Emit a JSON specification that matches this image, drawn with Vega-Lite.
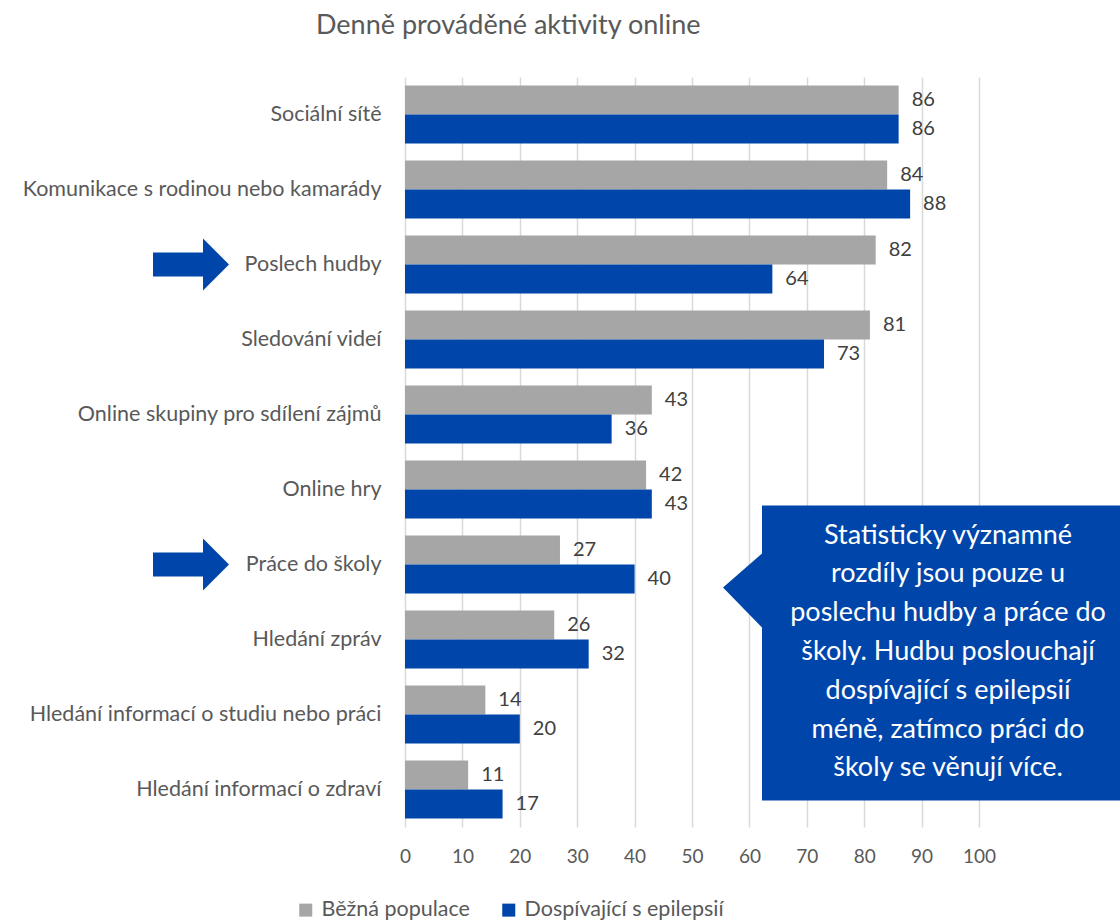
{
  "$schema": "https://vega.github.io/schema/vega-lite/v6.json",
  "autosize": {"type": "none"},
  "padding": {"left": 405, "top": 77, "right": 141, "bottom": 97},
  "width": 574,
  "height": 750,
  "background": "white",
  "title": {
    "text": "Denně prováděné aktivity online",
    "anchor": "start",
    "frame": "group",
    "dx": -89,
    "offset": 37,
    "font": "Lato",
    "fontSize": 27,
    "fontWeight": "normal",
    "color": "#595959"
  },
  "config": {
    "view": {"stroke": null},
    "axis": {"labelFont": "Lato", "labelColor": "#595959"},
    "legend": {"labelFont": "Lato"}
  },
  "datasets": {
    "activities": [
      {"activity": "Sociální sítě", "group": "Běžná populace", "value": 86},
      {"activity": "Sociální sítě", "group": "Dospívající s epilepsií", "value": 86},
      {"activity": "Komunikace s rodinou nebo kamarády", "group": "Běžná populace", "value": 84},
      {"activity": "Komunikace s rodinou nebo kamarády", "group": "Dospívající s epilepsií", "value": 88},
      {"activity": "Poslech hudby", "group": "Běžná populace", "value": 82},
      {"activity": "Poslech hudby", "group": "Dospívající s epilepsií", "value": 64},
      {"activity": "Sledování videí", "group": "Běžná populace", "value": 81},
      {"activity": "Sledování videí", "group": "Dospívající s epilepsií", "value": 73},
      {"activity": "Online skupiny pro sdílení zájmů", "group": "Běžná populace", "value": 43},
      {"activity": "Online skupiny pro sdílení zájmů", "group": "Dospívající s epilepsií", "value": 36},
      {"activity": "Online hry", "group": "Běžná populace", "value": 42},
      {"activity": "Online hry", "group": "Dospívající s epilepsií", "value": 43},
      {"activity": "Práce do školy", "group": "Běžná populace", "value": 27},
      {"activity": "Práce do školy", "group": "Dospívající s epilepsií", "value": 40},
      {"activity": "Hledání zpráv", "group": "Běžná populace", "value": 26},
      {"activity": "Hledání zpráv", "group": "Dospívající s epilepsií", "value": 32},
      {"activity": "Hledání informací o studiu nebo práci", "group": "Běžná populace", "value": 14},
      {"activity": "Hledání informací o studiu nebo práci", "group": "Dospívající s epilepsií", "value": 20},
      {"activity": "Hledání informací o zdraví", "group": "Běžná populace", "value": 11},
      {"activity": "Hledání informací o zdraví", "group": "Dospívající s epilepsií", "value": 17}
    ],
    "highlight": [
      {"activity": "Poslech hudby"},
      {"activity": "Práce do školy"}
    ],
    "note": [
      {"note": "Statisticky významné\nrozdíly jsou pouze u\nposlechu hudby a práce do\nškoly. Hudbu poslouchají\ndospívající s epilepsií\nméně, zatímco práci do\nškoly se věnují více."}
    ]
  },
  "layer": [
    {
      "data": {"name": "activities"},
      "mark": {"type": "bar"},
      "encoding": {
        "y": {
          "field": "activity",
          "type": "nominal",
          "scale": {
            "domain": ["Sociální sítě", "Komunikace s rodinou nebo kamarády", "Poslech hudby", "Sledování videí", "Online skupiny pro sdílení zájmů", "Online hry", "Práce do školy", "Hledání zpráv", "Hledání informací o studiu nebo práci", "Hledání informací o zdraví"],
            "paddingInner": 0.227,
            "paddingOuter": 0.1135
          },
          "axis": {
            "title": null,
            "domain": false,
            "ticks": false,
            "labelFont": "Lato",
            "labelFontSize": 21.5,
            "labelColor": "#595959",
            "labelPadding": 24,
            "labelLimit": 500
          }
        },
        "yOffset": {
          "field": "group",
          "type": "nominal",
          "scale": {"domain": ["Běžná populace", "Dospívající s epilepsií"], "paddingInner": 0, "paddingOuter": 0}
        },
        "x": {
          "field": "value",
          "type": "quantitative",
          "scale": {"domain": [0, 100], "nice": false},
          "axis": {
            "title": null,
            "values": [0, 10, 20, 30, 40, 50, 60, 70, 80, 90, 100],
            "grid": true,
            "gridColor": "#D9D9D9",
            "gridWidth": 1.5,
            "domain": false,
            "ticks": false,
            "labelFlush": false,
            "labelOverlap": false,
            "labelFontSize": 19,
            "labelPadding": 20,
            "labelColor": "#595959"
          }
        },
        "color": {
          "field": "group",
          "type": "nominal",
          "scale": {"domain": ["Běžná populace", "Dospívající s epilepsií"], "range": ["#A6A6A6", "#0046AA"]},
          "legend": {
            "title": null,
            "orient": "none",
            "legendX": -110,
            "legendY": 822,
            "direction": "horizontal",
            "symbolType": "square",
            "symbolSize": 169,
            "symbolStrokeWidth": 0,
            "labelFontSize": 21.5,
            "labelColor": "#595959",
            "labelOffset": 5,
            "labelLimit": 400,
            "columnPadding": 28
          }
        }
      }
    },
    {
      "data": {"name": "activities"},
      "mark": {"type": "text", "align": "left", "baseline": "middle", "dx": 13, "font": "Lato", "fontSize": 20, "color": "#404040"},
      "encoding": {
        "y": {"field": "activity", "type": "nominal"},
        "yOffset": {"field": "group", "type": "nominal"},
        "x": {"field": "value", "type": "quantitative"},
        "text": {"field": "value", "type": "quantitative"}
      }
    },
    {
      "data": {"name": "highlight"},
      "mark": {
        "type": "point",
        "filled": true,
        "opacity": 1,
        "size": 4,
        "color": "#0046AA",
        "shape": "M -252 -12 L -202 -12 L -202 -26 L -176 0 L -202 26 L -202 12 L -252 12 Z"
      },
      "encoding": {
        "y": {"field": "activity", "type": "nominal"},
        "x": {"datum": 0, "type": "quantitative"}
      }
    },
    {
      "data": {"name": "note"},
      "mark": {
        "type": "point",
        "filled": true,
        "opacity": 1,
        "size": 4,
        "color": "#0046AA",
        "shape": "M -217 -134 L 141 -134 L 141 161 L -217 161 L -217 -12 L -256 -52 L -217 -86 Z"
      },
      "encoding": {
        "y": {"datum": "Hledání zpráv", "type": "nominal"},
        "x": {"datum": 100, "type": "quantitative"}
      }
    },
    {
      "data": {"name": "note"},
      "mark": {
        "type": "text",
        "lineBreak": "\n",
        "lineHeight": 38.8,
        "align": "center",
        "baseline": "middle",
        "dx": -31,
        "dy": -104,
        "font": "Lato",
        "fontSize": 27,
        "color": "white"
      },
      "encoding": {
        "y": {"datum": "Hledání zpráv", "type": "nominal"},
        "x": {"datum": 100, "type": "quantitative"},
        "text": {"field": "note", "type": "nominal"}
      }
    }
  ]
}
